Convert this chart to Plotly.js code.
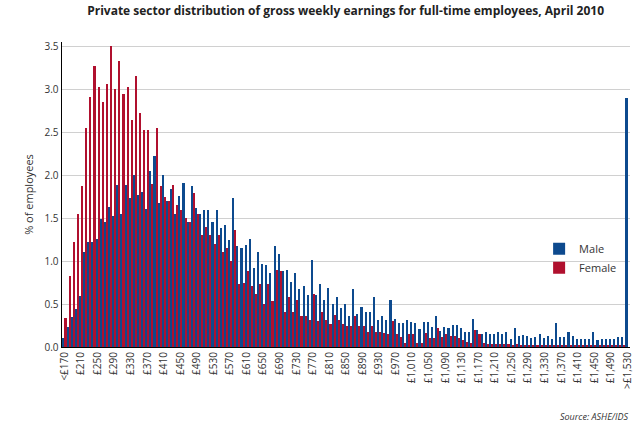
<!DOCTYPE html>
<html><head><meta charset="utf-8">
<script src="https://cdn.plot.ly/plotly-3.0.1.min.js"></script>
<style>body{margin:0;background:#fff}#c{width:640px;height:425px}</style>
</head><body><div id="c"></div>
<script>
const binStart = 170, binStep = 10;
const male = [0.10,0.23,0.35,0.44,0.59,1.10,1.22,1.22,1.26,1.49,1.45,1.63,1.52,1.88,1.55,1.88,1.74,2.00,1.77,1.80,
1.61,2.05,2.22,1.68,2.00,1.70,1.84,1.55,1.76,1.91,1.45,1.87,1.62,1.55,1.59,1.60,1.45,1.60,1.38,1.42,
1.25,1.73,1.17,1.15,1.19,1.26,0.92,1.10,0.97,0.96,0.86,1.17,1.08,0.89,0.90,0.76,0.86,0.68,0.71,0.60,
1.01,0.60,0.73,0.55,0.69,0.50,0.58,0.45,0.50,0.36,0.67,0.38,0.47,0.41,0.41,0.58,0.32,0.36,0.31,0.55,
0.33,0.28,0.28,0.32,0.29,0.28,0.21,0.29,0.29,0.23,0.36,0.19,0.23,0.22,0.26,0.26,0.22,0.18,0.18,0.33,
0.20,0.15,0.17,0.15,0.15,0.18,0.15,0.17,0.09,0.22,0.13,0.14,0.13,0.10,0.12,0.15,0.10,0.13,0.09,0.28,
0.12,0.12,0.17,0.13,0.09,0.09,0.09,0.09,0.18,0.08,0.09,0.09,0.09,0.09,0.12,0.12,2.90];
const female = [0.34,0.83,1.22,1.55,1.87,2.55,2.91,3.27,3.03,2.85,3.06,3.50,3.00,3.33,2.95,3.03,2.64,3.15,2.72,2.53,
2.53,1.90,2.55,1.87,1.75,1.70,1.89,1.65,1.60,1.50,1.45,1.79,1.55,1.30,1.40,1.30,1.20,1.30,1.10,1.15,
1.00,1.36,0.73,0.75,0.89,0.71,0.62,0.73,0.50,0.73,0.53,0.90,0.88,0.41,0.58,0.41,0.55,0.36,0.36,0.32,
0.62,0.30,0.41,0.32,0.27,0.37,0.32,0.27,0.24,0.24,0.36,0.24,0.24,0.17,0.24,0.17,0.17,0.16,0.15,0.30,
0.15,0.12,0.05,0.15,0.15,0.05,0.05,0.16,0.10,0.10,0.22,0.12,0.15,0.13,0.13,0.10,0.08,0.06,0.05,0.20,
0.15,0.05,0.04,0.04,0.03,0.03,0.03,0.03,0.02,0.03,0.02,0.02,0.02,0.02,0.02,0.02,0.02,0.02,0.02,0.02,
0.02,0.02,0.02,0.02,0.02,0.02,0.02,0.02,0.02,0.02,0.02,0.02,0.02,0.02,0.02,0.02,0.00];
const tickVals = [170,210,250,290,330,370,410,450,490,530,570,610,650,690,730,770,810,850,890,930,970,1010,1050,1090,1130,1170,1210,1250,1290,1330,1370,1410,1450,1490,1530];
const tickText = ["<£170","£210","£250","£290","£330","£370","£410","£450","£490","£530","£570","£610","£650","£690","£730","£770","£810","£850","£890","£930","£970","£1,010","£1,050","£1,090","£1,130","£1,170","£1,210","£1,250","£1,290","£1,330","£1,370","£1,410","£1,450","£1,490",">£1,530"];
const xs = male.map((_, i) => binStart + binStep * i);
const data = [
 {type:'bar', name:'Male', x:xs, y:male, marker:{color:'#0d4a8e'}},
 {type:'bar', name:'Female', x:xs, y:female, marker:{color:'#b0102e'}}
];
const layout = {
 width:640, height:425, margin:{l:62,r:10,t:42,b:78},
 paper_bgcolor:'#fff', plot_bgcolor:'#fff',
 barmode:'group', bargap:0, bargroupgap:0,
 font:{family:'Open Sans, sans-serif', size:10, color:'#333'},
 title:{text:'<b>Private sector distribution of gross weekly earnings for full-time employees, April 2010</b>', font:{size:12, color:'#222', family:'Open Sans, sans-serif'}, x:0.54, xanchor:'center', y:0.985, yanchor:'top'},
 xaxis:{range:[164,1536], tickvals:tickVals, ticktext:tickText, tickangle:-90, showgrid:false, showline:true, linecolor:'#000', ticks:'', tickfont:{size:10,color:'#333'}},
 yaxis:{range:[0,3.55], dtick:0.5, tickformat:'.1f', showgrid:true, gridcolor:'#d0d0d0', showline:true, linecolor:'#000', linewidth:1.5, zeroline:false, ticks:'', tickfont:{size:10,color:'#333'}, title:{text:'% of employees', font:{size:11,color:'#333'}, standoff:8}},
 legend:{x:0.84, y:0.37, xanchor:'left', yanchor:'top', bgcolor:'rgba(0,0,0,0)', font:{size:11,color:'#333'}, tracegroupgap:2},
 annotations:[{text:'<i>Source: ASHE/IDS</i>', xref:'paper', yref:'paper', x:1, y:-0.2, xanchor:'right', yanchor:'top', showarrow:false, font:{size:9,color:'#333'}}]
};
Plotly.newPlot('c', data, layout, {displayModeBar:false, staticPlot:true});
</script></body></html>
